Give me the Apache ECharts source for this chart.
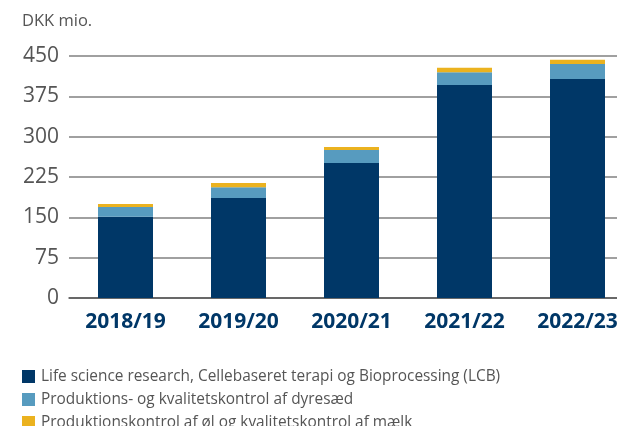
<!DOCTYPE html>
<html><head><meta charset="utf-8">
<script src="https://cdn.jsdelivr.net/npm/echarts@6/dist/echarts.min.js"></script>
<style>html,body{margin:0;padding:0;background:#fff}#c{width:617px;height:426px}</style>
</head><body><div id="c"></div>
<script>
const categories = ['2018/19','2019/20','2020/21','2021/22','2022/23'];
const lcb = [151, 186, 251, 396, 407];
const dyresaed = [18, 20, 24, 24, 28];
const olMaelk = [6, 8, 6, 8, 8];
const seriesNames = [
  'Life science research, Cellebaseret terapi og Bioprocessing (LCB)',
  'Produktions- og kvalitetskontrol af dyresæd',
  'Produktionskontrol af øl og kvalitetskontrol af mælk'
];
const colors = ['#003767', '#579bbf', '#ebb21f'];
const FONT = '"Open Sans", sans-serif';
const chart = echarts.init(document.getElementById('c'), null, {renderer:'canvas'});
chart.setOption({
  animation: false,
  color: colors,
  title: {text: 'DKK mio.', left: 22, top: 13, padding: 0, textStyle: {fontFamily: FONT, fontSize: 16.5, fontWeight: 'normal', color: '#555'}},
  grid: {left: 69, width: 565, top: 56, height: 242, containLabel: false, outerBoundsMode: 'none'},
  legend: {
    orient: 'vertical', left: 17, top: 364, height: 120, itemWidth: 13, itemHeight: 13, itemGap: 8,
    icon: 'rect',
    textStyle: {fontFamily: FONT, fontSize: 15.4, color: '#555', padding: [0,0,0,1]},
    data: seriesNames
  },
  xAxis: {
    type: 'category', data: categories,
    axisLine: {lineStyle: {color: '#555', width: 1.5}},
    axisTick: {show: false},
    axisLabel: {fontFamily: FONT, fontSize: 21, fontWeight: 'bold', color: '#003767', margin: 14}
  },
  yAxis: {
    type: 'value', min: 0, max: 450, interval: 75,
    axisLine: {show: false}, axisTick: {show: false},
    axisLabel: {fontFamily: FONT, fontSize: 21, color: '#555', margin: 10},
    splitLine: {lineStyle: {color: '#808080', width: 1.5}}
  },
  series: [
    {name: seriesNames[0], type: 'bar', stack: 's', data: lcb, barWidth: 55},
    {name: seriesNames[1], type: 'bar', stack: 's', data: dyresaed, barWidth: 55},
    {name: seriesNames[2], type: 'bar', stack: 's', data: olMaelk, barWidth: 55}
  ]
});
</script></body></html>
